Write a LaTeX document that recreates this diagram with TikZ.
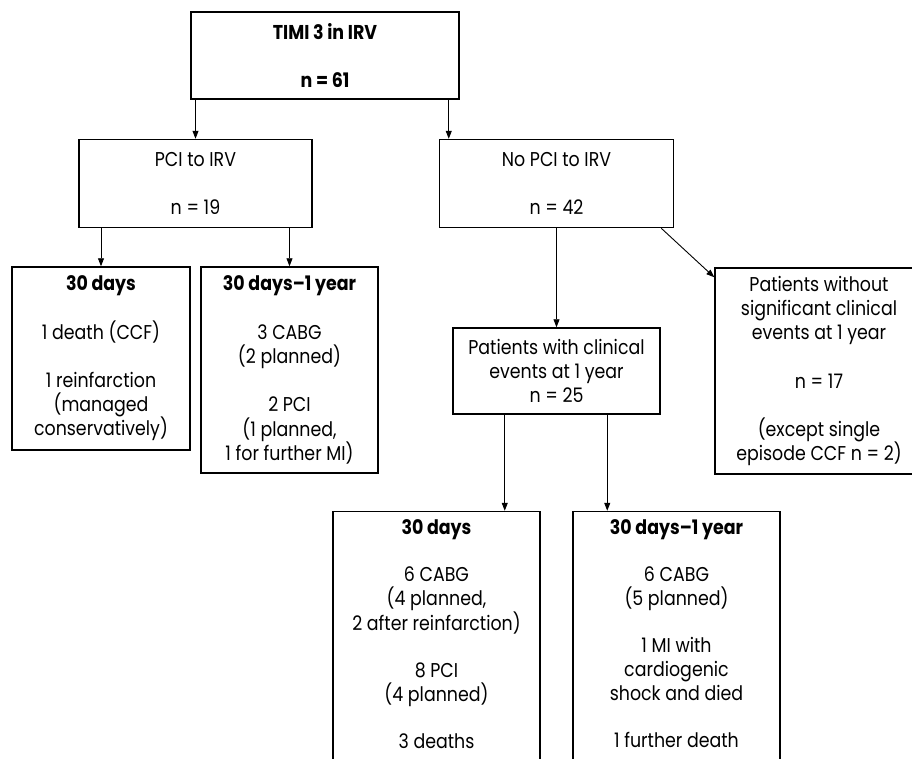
\documentclass[tikz,border=0pt]{standalone}
\usepackage{fontspec}
\setmainfont[FakeStretch=0.87]{Poppins}
\usetikzlibrary{arrows.meta, positioning}

\begin{document}
\begin{tikzpicture}[
  x=1pt, y=-1pt,
  box/.style={rectangle, draw=black, line width=1.5pt, align=center, inner sep=0pt, font=\fontsize{20}{24.2}\selectfont},
  openbox/.style={box, inner ysep=8pt, text depth=280pt, font=\fontsize{20}{23.7}\selectfont},
  arrow/.style={line width=0.9pt, -{Triangle[length=8pt, width=6pt]}}
]
\clip (0,0) rectangle (912,758);
\fill [white] (0,0) rectangle (912,758);

% Top level
\node (top) [box, minimum width=268pt, minimum height=87pt] at (325,55.5) {\textbf{TIMI 3 in IRV}\\~\\\textbf{n = 61}};

% Second level
\node (pci) [box, minimum width=233pt, minimum height=88pt, below=39pt of top, xshift=-129.5pt] {PCI to IRV\\~\\n = 19};
\node (nopci) [box, minimum width=234pt, minimum height=88pt, right=126pt of pci] {No PCI to IRV\\~\\n = 42};

% PCI branch
\node (early) [box, minimum width=178pt, minimum height=183pt, below=38pt of pci, xshift=-94.5pt] {\textbf{30 days}\\~\\1 death (CCF)\\~\\1 reinfarction\\(managed\\conservatively)};
\node (late) [box, minimum width=177pt, minimum height=206pt, below=38pt of pci, xshift=94pt] {\textbf{30 days–1 year}\\~\\3 CABG\\(2 planned)\\~\\2 PCI\\(1 planned,\\1 for further MI)};

% No PCI branch
\node (events) [box, minimum width=207pt, minimum height=86pt, below=99pt of nopci] {Patients with clinical\\events at 1 year\\n = 25};
\node (noevents) [box, minimum width=208pt, minimum height=206pt, below right=39pt and 40pt of nopci] {Patients without\\significant clinical\\events at 1 year\\~\\n = 17\\~\\(except single\\episode CCF n = 2)};
\node (evearly) [openbox, minimum width=207pt, below=96pt of events, xshift=-120pt] {\textbf{30 days}\\~\\6 CABG\\(4 planned,\\2 after reinfarction)\\~\\8 PCI\\(4 planned)\\~\\3 deaths};
\node (evlate) [openbox, minimum width=207pt, below=96pt of events, xshift=120pt] {\textbf{30 days–1 year}\\~\\6 CABG\\(5 planned)\\~\\1 MI with\\cardiogenic\\shock and died\\~\\1 further death};

% Arrows
\coordinate (nopciin) at ([xshift=10pt]nopci.north west);
\coordinate (evin) at ([xshift=-36pt]evearly.north east);
\coordinate (lvin) at ([xshift=35pt]evlate.north west);
\draw [arrow] (top.south -| pci.north) -- (pci.north);
\draw [arrow] (nopciin |- top.south) -- (nopciin);
\draw [arrow] (pci.south -| early.north) -- (early.north);
\draw [arrow] (pci.south -| late.north) -- (late.north);
\draw [arrow] (nopci) -- (events);
\draw [arrow] ([xshift=-13pt]nopci.south east) -- ([yshift=-10pt]noevents.north west);
\draw [arrow] (events.south -| evin) -- (evin);
\draw [arrow] (events.south -| lvin) -- (lvin);
\end{tikzpicture}
\end{document}
